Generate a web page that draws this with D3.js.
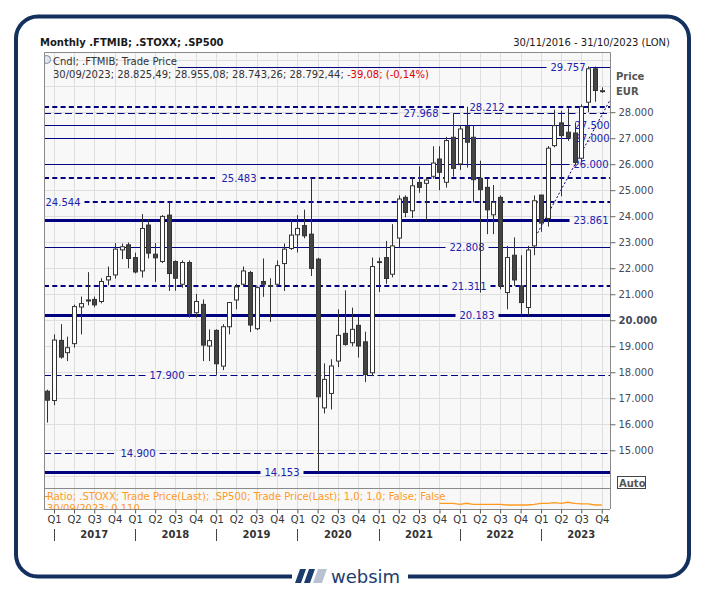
<!DOCTYPE html>
<html>
<head>
<meta charset="utf-8">
<script src="https://cdn.jsdelivr.net/npm/d3@7"></script>
<style>
	body { margin: 0; background: #fff; }
	svg { display: block; font-family: "DejaVu Sans", Verdana, sans-serif; }
</style>
</head>
<body>
<div id="chart"></div>
<script>
// monthly FTMIB candles, each drawn at its month end
const months = [
	'2016-11', '2016-12',
	'2017-01', '2017-02', '2017-03', '2017-04', '2017-05', '2017-06', '2017-07', '2017-08', '2017-09', '2017-10', '2017-11', '2017-12',
	'2018-01', '2018-02', '2018-03', '2018-04', '2018-05', '2018-06', '2018-07', '2018-08', '2018-09', '2018-10', '2018-11', '2018-12',
	'2019-01', '2019-02', '2019-03', '2019-04', '2019-05', '2019-06', '2019-07', '2019-08', '2019-09', '2019-10', '2019-11', '2019-12',
	'2020-01', '2020-02', '2020-03', '2020-04', '2020-05', '2020-06', '2020-07', '2020-08', '2020-09', '2020-10', '2020-11', '2020-12',
	'2021-01', '2021-02', '2021-03', '2021-04', '2021-05', '2021-06', '2021-07', '2021-08', '2021-09', '2021-10', '2021-11', '2021-12',
	'2022-01', '2022-02', '2022-03', '2022-04', '2022-05', '2022-06', '2022-07', '2022-08', '2022-09', '2022-10', '2022-11', '2022-12',
	'2023-01', '2023-02', '2023-03', '2023-04', '2023-05', '2023-06', '2023-07', '2023-08', '2023-09'
];
const opens = [
	17270, 16912,
	19225, 18753, 19100, 20510, 20780, 20800, 20720, 21550, 21742, 22705, 22900, 22410,
	21897, 23660, 22540, 22260, 24043, 22260, 21385, 22220, 20290, 20610, 19010, 19610,
	18235, 19750, 20780, 21385, 21835, 19675, 21490, 21300, 21385, 22180, 22760, 23285,
	23640, 23310, 22350, 16630, 17185, 18430, 19495, 19135, 19805, 19170, 17980, 22240,
	22410, 21770, 23160, 24725, 24210, 25300, 25265, 25535, 26200, 25305, 27035, 26010,
	27445, 27035, 25455, 25110, 24055, 24725, 21065, 22500, 21320, 20490, 22860, 24815,
	23915, 26715, 27590, 27230, 27200, 26230, 28385, 29670, 28825
];
const highs = [
	17330, 19456,
	19850, 19370, 20600, 20910, 21850, 20910, 21615, 22065, 22965, 22950, 22990, 22600,
	24080, 23890, 22965, 24043, 24544, 22300, 22300, 22300, 21010, 20800, 19650, 19650,
	19850, 20700, 21400, 22065, 21900, 21300, 22375, 21615, 22300, 22950, 23850, 24043,
	24250, 25483, 22400, 18340, 18500, 20420, 21150, 20485, 20125, 19560, 22410, 22410,
	23050, 23695, 24800, 24800, 25500, 25920, 25500, 26690, 26690, 27050, 27968, 27500,
	28212, 27500, 26135, 25455, 25200, 24800, 22860, 23185, 22500, 22860, 24800, 24815,
	26700, 28100, 28050, 28150, 27600, 28300, 29757, 29757, 28955
];
const lows = [
	16065, 16733,
	18520, 18430, 18950, 19456, 20575, 20500, 20650, 21345, 21605, 22350, 22000, 21800,
	21640, 22375, 21475, 22200, 21125, 21135, 21250, 20100, 20100, 18430, 18430, 17900,
	18080, 19456, 20420, 21345, 19545, 19620, 20900, 19935, 21300, 21125, 22700, 22605,
	23150, 21700, 14153, 16415, 16570, 18200, 19020, 19000, 18560, 17620, 17850, 21085,
	21400, 21650, 22800, 23960, 23930, 24900, 23825, 25450, 25000, 25100, 25520, 25780,
	25870, 24535, 21065, 23310, 23310, 21190, 20420, 21320, 20183, 20183, 22500, 23400,
	23600, 26650, 24765, 26900, 25950, 26100, 28000, 28400, 28743
];
const closes = [
	16925, 19237,
	18583, 18945, 20525, 20640, 20740, 20590, 21490, 21680, 22735, 22825, 22375, 21855,
	23530, 22580, 22400, 23993, 21795, 21615, 22220, 20265, 20720, 19045, 19215, 18325,
	19750, 20680, 21280, 21895, 19815, 21255, 21385, 21330, 22100, 22735, 23275, 23530,
	23245, 21990, 17057, 17725, 18240, 19420, 19070, 19650, 19010, 17915, 22065, 22250,
	21605, 22860, 24660, 24145, 25170, 25110, 25390, 26045, 25690, 26910, 25840, 27355,
	26845, 25405, 25020, 24245, 24535, 21320, 22410, 21550, 20680, 22700, 24595, 23735,
	26615, 27485, 27100, 27035, 26070, 28212, 29670, 28835, 28792
];

// support / resistance levels drawn across the chart
const levelValues = [29757, 28212, 27968, 27500, 27000, 26000, 25483, 24544, 23861, 22808, 21311, 20183, 17900, 14900, 14153];
const levelKinds  = ['thin', 'thickDash', 'thinDash', 'thin', 'thin', 'thin', 'thickDash', 'thickDash', 'thick', 'thin', 'thickDash', 'thick', 'thinDash', 'thinDash', 'thick'];
const levelLabelX = [568, 487, 421, 592, 592, 591, 239, 63, 591, 467, 469, 477, 167, 138, 282];

// trend line (date, price)
const trendDates  = ['2022-12-16', '2023-11-05'];
const trendValues = [23350, 28430];

// ratio .STOXX / .SP500, lower pane
const ratioMonths = [
	'2021-09', '2021-10', '2021-11', '2021-12', '2022-01', '2022-02', '2022-03', '2022-04', '2022-05',
	'2022-06', '2022-07', '2022-08', '2022-09', '2022-10', '2022-11', '2022-12', '2023-01', '2023-02',
	'2023-03', '2023-04', '2023-05', '2023-06', '2023-07', '2023-08', '2023-09'
];
const ratioValues = [
	0.1143, 0.1143, 0.1143, 0.1118, 0.1143, 0.1118, 0.1118, 0.1118, 0.1118,
	0.1118, 0.1100, 0.1100, 0.1100, 0.1100, 0.1118, 0.1143, 0.1143, 0.1158,
	0.1143, 0.1168, 0.1143, 0.1130, 0.1130, 0.1100, 0.1100
];

const priceTicks = [15000, 16000, 17000, 18000, 19000, 20000, 21000, 22000, 23000, 24000, 25000, 26000, 27000, 28000];
const quarterNames = ['Q1', 'Q2', 'Q3', 'Q4'];
const years = [2017, 2018, 2019, 2020, 2021, 2022, 2023];

(function () {

	'use strict';

	let width = 705, height = 590;
	let plot = {left: 44, right: 610, top: 52, bottom: 488};
	let pane = {top: 488, bottom: 509};
	let navy = '#000080', labelBlue = '#2020b0', frame = '#8a8a8a', grid = '#dedede';
	let orange = '#ff9a1f';

	let parseMonth = d3.timeParse('%Y-%m');
	let parseDay = d3.timeParse('%Y-%m-%d');
	let fmt = d3.formatLocale({decimal: ',', thousands: '.', grouping: [3], currency: ['', '']}).format(',.0f');

	let candles = months.map(function (m, i) {
		return {date: d3.timeMonth.offset(parseMonth(m), 1), o: opens[i], h: highs[i], l: lows[i], c: closes[i]};
	});

	let x = d3.scaleTime()
		.domain([new Date(2017, 0, 1), new Date(2024, 0, 1)])
		.range([54, 622.2]);

	let y = d3.scaleLinear()
		.domain([13549, 30315])
		.range([plot.bottom, plot.top]);

	let yRatio = d3.scaleLinear()
		.domain([0.100, 0.1525])
		.range([pane.bottom, pane.top]);

	// snap a coordinate to the pixel grid for crisp 1px lines
	let crisp = function (v) { return Math.round(v) + 0.5; };

	let svg = d3.select('#chart').append('svg')
		.attr('width', width)
		.attr('height', height);

	// ****************** frame & backgrounds ***************************

	svg.append('rect')
		.attr('x', 16).attr('y', 16.5)
		.attr('width', 673).attr('height', 560)
		.attr('rx', 22)
		.attr('fill', '#fff')
		.attr('stroke', '#14305e')
		.attr('stroke-width', 4);

	svg.append('rect')
		.attr('x', plot.left).attr('y', plot.top)
		.attr('width', plot.right - plot.left).attr('height', pane.bottom - plot.top)
		.attr('fill', '#f8f8f8');

	svg.append('defs').append('clipPath').attr('id', 'plotClip')
		.append('rect')
		.attr('x', plot.left).attr('y', plot.top)
		.attr('width', plot.right - plot.left).attr('height', plot.bottom - plot.top);

	svg.select('defs').append('clipPath').attr('id', 'paneClip')
		.append('rect')
		.attr('x', plot.left).attr('y', pane.top)
		.attr('width', plot.right - plot.left).attr('height', pane.bottom - pane.top);

	// grid
	let quarters = d3.timeMonth.every(3).range(new Date(2017, 0, 1), new Date(2023, 11, 1));

	let gridG = svg.append('g').attr('clip-path', 'url(#plotClip)');
	gridG.selectAll('line.vg')
		.data(quarters)
		.enter().append('line')
		.attr('class', 'vg')
		.attr('x1', function (d) { return crisp(x(d)); })
		.attr('x2', function (d) { return crisp(x(d)); })
		.attr('y1', plot.top).attr('y2', pane.bottom)
		.attr('stroke', grid);
	gridG.selectAll('line.hg')
		.data(d3.range(14000, 30001, 1000))
		.enter().append('line')
		.attr('class', 'hg')
		.attr('x1', plot.left).attr('x2', plot.right)
		.attr('y1', function (d) { return crisp(y(d)); })
		.attr('y2', function (d) { return crisp(y(d)); })
		.attr('stroke', grid);

	let paneGrid = svg.append('g').attr('clip-path', 'url(#paneClip)');
	paneGrid.selectAll('line')
		.data(quarters)
		.enter().append('line')
		.attr('x1', function (d) { return crisp(x(d)); })
		.attr('x2', function (d) { return crisp(x(d)); })
		.attr('y1', pane.top).attr('y2', pane.bottom)
		.attr('stroke', grid);

	// ****************** title & legend ***************************

	svg.append('text')
		.attr('x', 40).attr('y', 46)
		.attr('font-size', 10).attr('font-weight', 'bold')
		.attr('fill', '#1a1a1a')
		.text('Monthly .FTMIB; .STOXX; .SP500');

	svg.append('text')
		.attr('x', 670).attr('y', 46)
		.attr('text-anchor', 'end')
		.attr('font-size', 10)
		.attr('fill', '#1a1a1a')
		.text('30/11/2016 - 31/10/2023 (LON)');

	let legend = svg.append('text')
		.attr('x', 53).attr('y', 64.5)
		.attr('font-size', 10)
		.attr('fill', '#333')
		.text('Cndl; .FTMIB; Trade Price');
	let legendRight = 53 + legend.node().getComputedTextLength() + 1;

	let f2 = function (v) { return d3.format(',.2f')(v).replace(/,/g, ' ').replace('.', ',').replace(/ /g, '.'); };
	let info = svg.append('text')
		.attr('x', 53).attr('y', 78)
		.attr('font-size', 10)
		.attr('fill', '#333');
	info.append('tspan').text('30/09/2023; ' + f2(28825.49) + '; ' + f2(28955.08) + '; ' + f2(28743.26) + '; ' + f2(28792.44) + '; ');
	info.append('tspan').attr('fill', '#e00000').text('-39,08; (-0,14%)');

	// legend bullet
	svg.append('circle')
		.attr('cx', 46.5).attr('cy', 59.5).attr('r', 4)
		.attr('fill', '#dfe6ee').attr('stroke', '#7a8aa0');
	svg.append('rect')
		.attr('x', 38).attr('y', 54).attr('width', 6).attr('height', 12).attr('fill', '#fff');

	// ****************** levels ***************************

	let kinds = {
		thin:      {w: 1,   dash: null,    snap: true},
		thinDash:  {w: 1,   dash: '7,3.5', snap: true},
		thick:     {w: 3,   dash: null,    snap: true},
		thickDash: {w: 2,   dash: '5,3.3', snap: false}
	};

	let levelG = svg.append('g').attr('clip-path', 'url(#plotClip)');
	let labelG = svg.append('g');

	levelValues.forEach(function (v, i) {
		let k = kinds[levelKinds[i]];
		let yy = k.snap ? crisp(y(v)) : Math.round(y(v));
		let lbl = labelG.append('text')
			.attr('x', levelLabelX[i]).attr('y', yy + 3.8)
			.attr('text-anchor', 'middle')
			.attr('font-size', 10)
			.attr('fill', labelBlue)
			.text(fmt(v));
		let tw = lbl.node().getComputedTextLength();
		let start = yy < 70 ? legendRight : plot.left;
		let segs = [[start, levelLabelX[i] - tw / 2 - 4], [levelLabelX[i] + tw / 2 + 4, plot.right]];
		segs.forEach(function (s) {
			if (s[1] <= s[0]) return;
			levelG.append('line')
				.attr('x1', s[0]).attr('x2', s[1])
				.attr('y1', yy).attr('y2', yy)
				.attr('stroke', navy)
				.attr('stroke-width', k.w)
				.attr('stroke-dasharray', k.dash);
		});
	});

	// trend line
	levelG.append('line')
		.attr('x1', x(parseDay(trendDates[0]))).attr('y1', y(trendValues[0]))
		.attr('x2', x(parseDay(trendDates[1]))).attr('y2', y(trendValues[1]))
		.attr('stroke', navy)
		.attr('stroke-width', 1)
		.attr('stroke-dasharray', '2,2');

	// ****************** candles ***************************

	let bodyW = 4;
	let candleG = svg.append('g').attr('clip-path', 'url(#plotClip)');
	let candle = candleG.selectAll('g.candle')
		.data(candles)
		.enter().append('g')
		.attr('class', 'candle')
		.attr('transform', function (d) { return 'translate(' + crisp(x(d.date)) + ',0)'; });

	candle.append('line')
		.attr('y1', function (d) { return y(d.h); })
		.attr('y2', function (d) { return y(d.l); })
		.attr('stroke', '#333');

	candle.append('rect')
		.attr('x', -bodyW / 2)
		.attr('y', function (d) { return y(Math.max(d.o, d.c)); })
		.attr('width', bodyW)
		.attr('height', function (d) { return Math.max(0.8, Math.abs(y(d.o) - y(d.c))); })
		.attr('fill', function (d) { return d.c >= d.o ? '#fff' : '#444'; })
		.attr('stroke', '#333');

	// ****************** ratio pane ***************************

	let ratio = ratioMonths.map(function (m, i) {
		return {date: d3.timeMonth.offset(parseMonth(m), 1), v: ratioValues[i]};
	});

	svg.append('g').attr('clip-path', 'url(#paneClip)')
		.append('path')
		.datum(ratio)
		.attr('fill', 'none')
		.attr('stroke', orange)
		.attr('stroke-width', 1.3)
		.attr('d', d3.line()
			.x(function (d) { return x(d.date); })
			.y(function (d) { return yRatio(d.v); }));

	let paneText = svg.append('g').attr('clip-path', 'url(#paneClip)');
	paneText.append('line')
		.attr('x1', plot.left).attr('x2', plot.left + 4)
		.attr('y1', 496.5).attr('y2', 496.5)
		.attr('stroke', orange);
	paneText.append('text')
		.attr('x', 47).attr('y', 500)
		.attr('font-size', 10)
		.attr('fill', orange)
		.text('Ratio; .STOXX; Trade Price(Last); .SP500; Trade Price(Last);  1,0; 1,0; False; False');
	paneText.append('text')
		.attr('x', 47).attr('y', 512)
		.attr('font-size', 10)
		.attr('fill', orange)
		.text('30/09/2023; 0,110');

	// ****************** frame lines ***************************

	let frameG = svg.append('g').attr('stroke', frame).attr('fill', 'none');
	frameG.append('path')
		.attr('d', 'M' + (plot.left + 0.5) + ',' + pane.bottom + 'V' + (plot.top + 0.5) + 'H' + (plot.right + 0.5) + 'V' + pane.bottom);
	frameG.append('line')
		.attr('x1', plot.left).attr('x2', plot.right)
		.attr('y1', plot.bottom + 0.5).attr('y2', plot.bottom + 0.5);
	frameG.append('line')
		.attr('x1', plot.left).attr('x2', plot.right)
		.attr('y1', pane.bottom + 0.5).attr('y2', pane.bottom + 0.5);

	// ****************** right price axis ***************************

	let yAxis = d3.axisRight(y)
		.tickValues(priceTicks)
		.tickSize(5)
		.tickPadding(3)
		.tickFormat(fmt);

	let yAxisG = svg.append('g')
		.attr('transform', 'translate(' + (plot.right + 0.5) + ',0)')
		.call(yAxis);
	yAxisG.select('.domain').remove();
	yAxisG.selectAll('.tick line').attr('stroke', '#666');
	yAxisG.selectAll('.tick text')
		.attr('font-family', '"DejaVu Sans", Verdana, sans-serif')
		.attr('font-size', 10)
		.attr('fill', '#454a5a')
		.attr('font-weight', function (d) { return d === 20000 ? 'bold' : null; });

	svg.append('text')
		.attr('x', 616).attr('y', 80)
		.attr('font-size', 10).attr('font-weight', 'bold')
		.attr('fill', '#555')
		.text('Price');
	svg.append('text')
		.attr('x', 616).attr('y', 95)
		.attr('font-size', 10).attr('font-weight', 'bold')
		.attr('fill', '#555')
		.text('EUR');

	svg.append('rect')
		.attr('x', 617.5).attr('y', 476.5)
		.attr('width', 28).attr('height', 12)
		.attr('fill', '#fff')
		.attr('stroke', '#444');
	svg.append('text')
		.attr('x', 619).attr('y', 486.5)
		.attr('font-size', 10).attr('font-weight', 'bold')
		.attr('fill', '#555')
		.text('Auto');

	// ****************** time axis ***************************

	let xAxis = d3.axisBottom(x)
		.tickValues(quarters)
		.tickSize(4)
		.tickPadding(2)
		.tickFormat(function (d) { return quarterNames[Math.floor(d.getMonth() / 3)]; });

	let xAxisG = svg.append('g')
		.attr('transform', 'translate(0,' + (pane.bottom + 0.5) + ')')
		.call(xAxis);
	xAxisG.select('.domain').remove();
	xAxisG.selectAll('.tick line').attr('stroke', '#555');
	xAxisG.selectAll('.tick text')
		.attr('font-family', '"DejaVu Sans", Verdana, sans-serif')
		.attr('font-size', 10)
		.attr('fill', '#333');

	svg.selectAll('line.year')
		.data(years)
		.enter().append('line')
		.attr('class', 'year')
		.attr('x1', function (d) { return crisp(x(new Date(d, 0, 1))); })
		.attr('x2', function (d) { return crisp(x(new Date(d, 0, 1))); })
		.attr('y1', 529).attr('y2', 541)
		.attr('stroke', '#444');

	svg.selectAll('text.year')
		.data(years)
		.enter().append('text')
		.attr('class', 'year')
		.attr('x', function (d) { return x(new Date(d, 6, 1)); })
		.attr('y', 538)
		.attr('text-anchor', 'middle')
		.attr('font-size', 10).attr('font-weight', 'bold')
		.attr('fill', '#333')
		.text(function (d) { return d; });

	// ****************** websim badge ***************************

	let badge = svg.append('g');
	badge.append('rect')
		.attr('x', 292).attr('y', 566).attr('width', 116).attr('height', 22)
		.attr('fill', '#fff');
	badge.append('path')
		.attr('d', 'M300,569 L306,569 L301,583 L295,583 Z M309,569 L315,569 L310,583 L304,583 Z')
		.attr('fill', '#1d3c6e');
	badge.append('path')
		.attr('d', 'M318,569 L327,569 L322,583 L313,583 Z')
		.attr('fill', '#b8c2d0');
	badge.append('text')
		.attr('x', 331).attr('y', 583)
		.attr('font-size', 18)
		.attr('fill', '#1d3c6e')
		.text('websim');

})();
</script>
</body>
</html>
